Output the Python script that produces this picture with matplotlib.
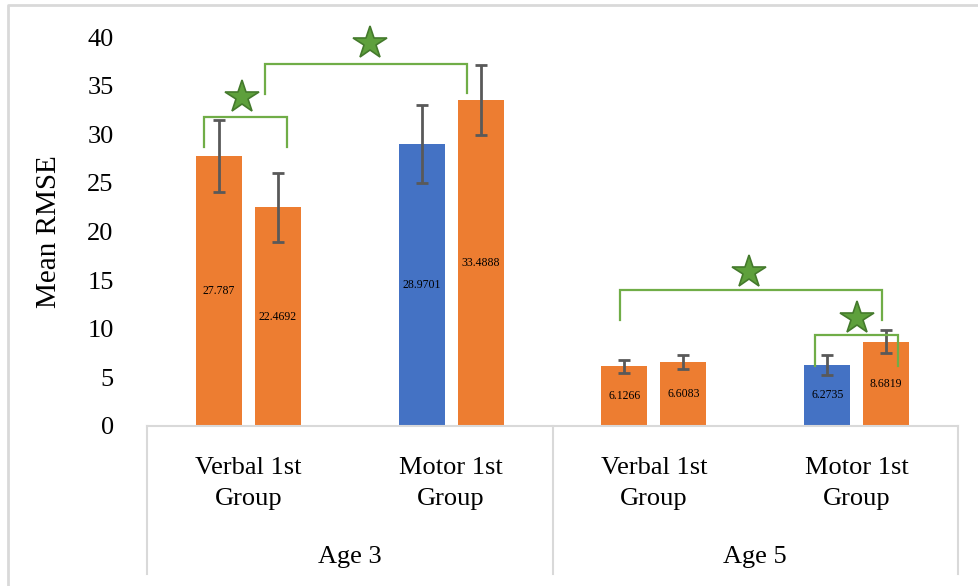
"""
Mean RMSE by group and age, with significance brackets.
"""
import matplotlib.pyplot as plt
from matplotlib.lines import Line2D
import numpy as np

plt.rcParams['font.family'] = ['Liberation Serif', 'DejaVu Serif']

# Data
groups = ["Verbal 1st\nGroup", "Motor 1st\nGroup", "Verbal 1st\nGroup", "Motor 1st\nGroup"]
ages = ["Age 3", "Age 5"]
first_vals = [27.787, 28.9701, 6.1266, 6.2735]
second_vals = [22.4692, 33.4888, 6.6083, 8.6819]
first_err = [3.7, 4.0, 0.7, 1.0]
second_err = [3.5, 3.6, 0.7, 1.2]
first_is_blue = [False, True, False, True]

# significance brackets: x left, x right, top, left leg end, right leg end, star x, star y
brackets = [
    (-0.22, 0.19, 31.8, 28.7, 28.7, -0.03, 33.8),
    (0.08, 1.08, 37.2, 34.1, 34.2, 0.60, 39.4),
    (1.835, 3.125, 14.0, 10.9, 10.9, 2.47, 15.8),
    (2.795, 3.205, 9.35, 6.2, 6.2, 3.00, 11.1),
]

ORANGE = '#ED7D31'
BLUE = '#4472C4'
GREY = '#595959'
LINE = '#D9D9D9'
GREEN = '#70AD47'

fig = plt.figure(figsize=(9.79, 5.86), dpi=100)
ax = fig.add_axes([147 / 979, 1 - 426 / 586, 811 / 979, (426 - 37) / 586])

x = np.arange(len(groups))
w = 0.227
off = 0.145

c1 = [BLUE if b else ORANGE for b in first_is_blue]
ax.bar(x - off, first_vals, w, color=c1)
ax.bar(x + off, second_vals, w, color=ORANGE)
ek = dict(fmt='none', ecolor=GREY, elinewidth=2, capsize=4, capthick=2)
ax.errorbar(x - off, first_vals, yerr=first_err, **ek)
ax.errorbar(x + off, second_vals, yerr=second_err, **ek)

# value labels in the middle of each bar
for xs, vals in ((x - off, first_vals), (x + off, second_vals)):
    for xi, v in zip(xs, vals):
        ax.text(xi, v / 2, f"{v:g}", ha='center', va='center', fontsize=8.5, color='black')

# brackets and stars
for xl, xr, top, yl, yr, sx, sy in brackets:
    ax.plot([xl, xl, xr, xr], [yl, top, top, yr], color=GREEN, lw=1.6,
            solid_joinstyle='miter', clip_on=False)
    ax.plot(sx, sy, marker='*', markersize=25, markerfacecolor='#5EA03C',
            markeredgecolor='#447A2C', markeredgewidth=1.2, clip_on=False)

ax.set_xlim(-0.5, 3.5)
ax.set_ylim(0, 40)
ax.set_yticks(range(0, 41, 5))
ax.tick_params(axis='y', length=0, pad=24, labelsize=19)
ax.set_ylabel('Mean RMSE', fontsize=21)
ax.yaxis.set_label_coords(-0.105, 0.5)

for s in ('left', 'right', 'top'):
    ax.spines[s].set_visible(False)
ax.spines['bottom'].set_color(LINE)
ax.spines['bottom'].set_linewidth(1.5)

# two-level category axis
ax.set_xticks([])
for xi, g in zip(x, groups):
    ax.annotate(g, xy=(xi, 0), xycoords=('data', 'axes fraction'),
                xytext=(0, -31), textcoords='offset pixels',
                ha='center', va='top', fontsize=19, linespacing=1.55)
for i, a in enumerate(ages):
    ax.annotate(a, xy=(2 * i + 0.5, 0), xycoords=('data', 'axes fraction'),
                xytext=(0, -120), textcoords='offset pixels',
                ha='center', va='top', fontsize=19)
for xs in (-0.5, 1.5, 3.5):
    ax.plot([xs, xs], [0, -148 / 389], transform=ax.get_xaxis_transform(),
            color=LINE, lw=1.5, clip_on=False)

# chart area border (left and top edges)
fig.add_artist(Line2D([8 / 979, 8 / 979, 1], [0, 1 - 5 / 586, 1 - 5 / 586],
                      transform=fig.transFigure, color=LINE, lw=2))

fig.savefig('out.png', dpi=100)
